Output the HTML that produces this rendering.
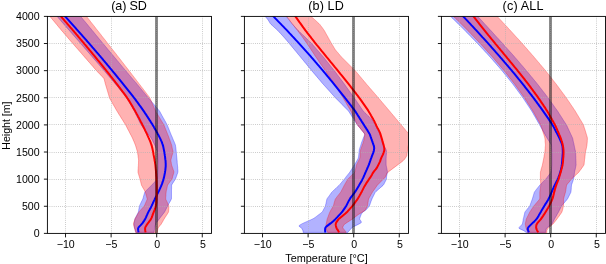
<!DOCTYPE html><html><head><meta charset="utf-8"><style>html,body{margin:0;padding:0;background:#fff;}svg{display:block;will-change:transform;}text{font-family:"Liberation Sans",sans-serif;fill:#000;}</style></head><body>
<svg width="606" height="264" viewBox="0 0 606 264">
<rect width="606" height="264" fill="#fff"/>
<clipPath id="c0"><rect x="47.40" y="16.40" width="164.10" height="217.00"/></clipPath>
<g clip-path="url(#c0)">
<polygon points="54.5,13.4 55.4,14.4 56.2,15.4 57.1,16.4 58.0,17.4 58.8,18.4 59.7,19.4 60.6,20.4 61.4,21.4 62.3,22.4 63.2,23.4 64.0,24.4 64.9,25.4 65.8,26.4 66.6,27.4 67.5,28.4 68.4,29.4 69.3,30.4 70.1,31.4 71.0,32.4 71.9,33.4 72.7,34.4 73.6,35.4 74.5,36.4 75.4,37.4 76.2,38.4 77.1,39.4 78.0,40.4 78.9,41.4 79.7,42.4 80.6,43.4 81.5,44.4 82.3,45.4 83.2,46.4 84.1,47.4 84.9,48.4 85.8,49.4 86.7,50.4 87.5,51.4 88.4,52.4 89.3,53.4 90.1,54.4 91.0,55.4 91.9,56.4 92.7,57.4 93.6,58.4 94.5,59.4 95.3,60.4 96.2,61.4 97.0,62.4 97.9,63.4 98.8,64.4 99.6,65.4 100.5,66.4 101.3,67.4 102.2,68.4 103.1,69.4 103.9,70.4 104.8,71.4 105.6,72.4 106.5,73.4 107.3,74.4 108.1,75.4 109.0,76.4 109.8,77.4 110.7,78.4 111.5,79.4 112.4,80.4 113.2,81.4 114.1,82.4 114.9,83.4 115.7,84.4 116.5,85.4 117.4,86.4 118.2,87.4 119.0,88.4 119.8,89.4 120.6,90.4 121.4,91.4 122.2,92.4 123.1,93.4 123.9,94.4 124.7,95.4 125.5,96.4 126.3,97.4 127.0,98.4 127.6,99.4 128.2,100.4 128.8,101.4 129.3,102.4 129.9,103.4 130.5,104.4 131.1,105.4 131.6,106.4 132.2,107.4 132.8,108.4 133.4,109.4 134.0,110.4 134.5,111.4 135.0,112.4 135.5,113.4 135.9,114.4 136.4,115.4 136.9,116.4 137.4,117.4 137.9,118.4 138.3,119.4 138.8,120.4 139.3,121.4 139.8,122.4 140.3,123.4 140.8,124.4 141.4,125.4 142.2,126.4 142.9,127.4 143.7,128.4 144.5,129.4 145.3,130.4 146.1,131.4 146.8,132.4 147.6,133.4 148.4,134.4 149.2,135.4 150.0,136.4 150.7,137.4 151.4,138.4 151.9,139.4 152.4,140.4 152.9,141.4 153.4,142.4 153.9,143.4 154.4,144.4 154.9,145.4 155.3,146.4 155.7,147.4 156.1,148.4 156.5,149.4 156.9,150.4 157.3,151.4 157.5,152.4 157.6,153.4 157.6,154.4 157.7,155.4 157.7,156.4 157.8,157.4 157.8,158.4 157.9,159.4 158.0,160.4 158.0,161.4 158.1,162.4 158.1,163.4 158.2,164.4 158.2,165.4 158.1,166.4 158.0,167.4 158.0,168.4 157.9,169.4 157.8,170.4 157.7,171.4 157.7,172.4 157.7,173.4 157.6,174.4 157.6,175.4 157.6,176.4 157.5,177.4 157.5,178.4 157.1,179.4 156.2,180.4 155.2,181.4 154.3,182.4 153.3,183.4 152.4,184.4 151.4,185.4 150.4,186.4 149.4,187.4 148.4,188.4 147.4,189.4 146.4,190.4 145.4,191.4 144.7,192.4 144.4,193.4 144.1,194.4 143.8,195.4 143.5,196.4 143.3,197.4 143.0,198.4 142.6,199.4 142.1,200.4 141.6,201.4 141.1,202.4 140.7,203.4 140.2,204.4 139.7,205.4 139.4,206.4 139.2,207.4 139.0,208.4 138.8,209.4 138.7,210.4 138.5,211.4 138.2,212.4 137.7,213.4 137.2,214.4 136.7,215.4 136.2,216.4 135.7,217.4 135.2,218.4 134.8,219.4 134.6,220.4 134.5,221.4 134.3,222.4 134.1,223.4 134.1,224.4 134.2,225.4 134.3,226.4 134.4,227.4 134.6,228.4 135.0,229.4 135.3,230.4 135.6,231.4 135.9,232.4 154.0,232.4 154.2,231.4 154.3,230.4 154.5,229.4 154.6,228.4 154.8,227.4 155.0,226.4 155.2,225.4 155.5,224.4 156.0,223.4 156.7,222.4 157.4,221.4 158.2,220.4 158.9,219.4 159.7,218.4 160.4,217.4 161.2,216.4 162.0,215.4 162.7,214.4 163.5,213.4 164.3,212.4 164.9,211.4 165.4,210.4 165.9,209.4 166.4,208.4 166.9,207.4 167.4,206.4 167.9,205.4 168.5,204.4 169.0,203.4 169.6,202.4 170.2,201.4 170.7,200.4 171.2,199.4 171.5,198.4 171.5,197.4 171.5,196.4 171.5,195.4 171.5,194.4 171.5,193.4 171.5,192.4 171.5,191.4 171.5,190.4 171.5,189.4 171.6,188.4 171.6,187.4 171.6,186.4 171.6,185.4 172.0,184.4 172.6,183.4 173.3,182.4 173.9,181.4 174.6,180.4 175.2,179.4 175.7,178.4 176.1,177.4 176.4,176.4 176.8,175.4 177.1,174.4 177.5,173.4 177.8,172.4 177.9,171.4 177.9,170.4 177.8,169.4 177.7,168.4 177.7,167.4 177.6,166.4 177.5,165.4 177.4,164.4 177.3,163.4 177.2,162.4 177.2,161.4 177.1,160.4 177.0,159.4 176.9,158.4 176.8,157.4 176.7,156.4 176.6,155.4 176.5,154.4 176.4,153.4 176.3,152.4 176.2,151.4 176.1,150.4 176.0,149.4 175.9,148.4 175.8,147.4 175.6,146.4 175.5,145.4 175.2,144.4 174.8,143.4 174.4,142.4 174.0,141.4 173.5,140.4 173.1,139.4 172.7,138.4 172.3,137.4 171.9,136.4 171.4,135.4 171.0,134.4 170.6,133.4 170.2,132.4 169.8,131.4 169.4,130.4 169.0,129.4 168.6,128.4 168.2,127.4 167.8,126.4 167.4,125.4 166.9,124.4 166.4,123.4 165.8,122.4 165.3,121.4 164.7,120.4 164.2,119.4 163.6,118.4 163.0,117.4 162.5,116.4 161.9,115.4 161.4,114.4 160.8,113.4 160.3,112.4 159.7,111.4 159.0,110.4 158.1,109.4 157.3,108.4 156.5,107.4 155.6,106.4 154.8,105.4 153.9,104.4 153.1,103.4 152.2,102.4 151.4,101.4 150.5,100.4 149.7,99.4 148.8,98.4 148.0,97.4 147.2,96.4 146.3,95.4 145.5,94.4 144.7,93.4 143.9,92.4 143.0,91.4 142.2,90.4 141.4,89.4 140.5,88.4 139.7,87.4 138.9,86.4 138.1,85.4 137.2,84.4 136.4,83.4 135.6,82.4 134.7,81.4 133.9,80.4 133.0,79.4 132.2,78.4 131.3,77.4 130.5,76.4 129.6,75.4 128.8,74.4 128.0,73.4 127.1,72.4 126.3,71.4 125.4,70.4 124.6,69.4 123.8,68.4 122.9,67.4 122.1,66.4 121.3,65.4 120.4,64.4 119.6,63.4 118.8,62.4 118.0,61.4 117.1,60.4 116.3,59.4 115.5,58.4 114.6,57.4 113.8,56.4 113.0,55.4 112.1,54.4 111.3,53.4 110.4,52.4 109.6,51.4 108.8,50.4 107.9,49.4 107.1,48.4 106.3,47.4 105.4,46.4 104.6,45.4 103.8,44.4 102.9,43.4 102.1,42.4 101.3,41.4 100.5,40.4 99.6,39.4 98.8,38.4 98.0,37.4 97.2,36.4 96.3,35.4 95.5,34.4 94.7,33.4 93.9,32.4 93.1,31.4 92.2,30.4 91.4,29.4 90.6,28.4 89.7,27.4 88.9,26.4 88.1,25.4 87.3,24.4 86.4,23.4 85.6,22.4 84.8,21.4 83.9,20.4 83.1,19.4 82.3,18.4 81.4,17.4 80.6,16.4 79.8,15.4 79.0,14.4 78.1,13.4" fill="rgba(0,0,255,0.3)" stroke="rgba(0,0,255,0.3)" stroke-width="1" stroke-linejoin="round"/>
<polygon points="47.4,13.4 48.3,14.4 49.1,15.4 49.9,16.4 50.7,17.4 51.6,18.4 52.4,19.4 53.2,20.4 54.1,21.4 54.9,22.4 55.7,23.4 56.6,24.4 57.4,25.4 58.2,26.4 59.0,27.4 59.9,28.4 60.7,29.4 61.5,30.4 62.4,31.4 63.3,32.4 64.1,33.4 65.0,34.4 65.8,35.4 66.7,36.4 67.6,37.4 68.4,38.4 69.3,39.4 70.1,40.4 71.0,41.4 71.9,42.4 72.7,43.4 73.6,44.4 74.5,45.4 75.3,46.4 76.2,47.4 77.1,48.4 78.0,49.4 78.8,50.4 79.7,51.4 80.6,52.4 81.5,53.4 82.3,54.4 83.2,55.4 84.1,56.4 84.9,57.4 85.8,58.4 86.7,59.4 87.5,60.4 88.4,61.4 89.3,62.4 90.2,63.4 91.0,64.4 91.9,65.4 92.8,66.4 93.6,67.4 94.5,68.4 95.4,69.4 96.2,70.4 97.2,71.4 98.1,72.4 99.1,73.4 100.1,74.4 101.0,75.4 102.0,76.4 102.9,77.4 103.8,78.4 104.2,79.4 104.5,80.4 104.7,81.4 105.0,82.4 105.2,83.4 105.5,84.4 105.8,85.4 106.1,86.4 106.4,87.4 106.7,88.4 107.0,89.4 107.3,90.4 107.6,91.4 107.9,92.4 108.2,93.4 108.5,94.4 108.8,95.4 109.0,96.4 109.3,97.4 109.7,98.4 110.3,99.4 110.9,100.4 111.4,101.4 112.0,102.4 112.6,103.4 113.1,104.4 113.7,105.4 114.3,106.4 114.9,107.4 115.4,108.4 116.0,109.4 116.6,110.4 117.2,111.4 117.8,112.4 118.4,113.4 119.0,114.4 119.7,115.4 120.3,116.4 120.9,117.4 121.5,118.4 122.2,119.4 122.8,120.4 123.4,121.4 124.0,122.4 124.7,123.4 125.3,124.4 125.9,125.4 126.4,126.4 126.9,127.4 127.4,128.4 127.9,129.4 128.5,130.4 129.0,131.4 129.5,132.4 130.0,133.4 130.5,134.4 131.1,135.4 131.6,136.4 132.1,137.4 132.6,138.4 133.0,139.4 133.4,140.4 133.9,141.4 134.3,142.4 134.7,143.4 135.1,144.4 135.5,145.4 135.8,146.4 136.1,147.4 136.4,148.4 136.7,149.4 137.0,150.4 137.3,151.4 137.5,152.4 137.7,153.4 137.8,154.4 138.0,155.4 138.1,156.4 138.2,157.4 138.4,158.4 138.5,159.4 138.6,160.4 138.5,161.4 138.5,162.4 138.5,163.4 138.4,164.4 138.4,165.4 138.3,166.4 138.2,167.4 138.2,168.4 138.1,169.4 138.0,170.4 138.0,171.4 138.0,172.4 138.3,173.4 138.6,174.4 138.9,175.4 139.2,176.4 139.5,177.4 139.8,178.4 140.1,179.4 140.3,180.4 140.6,181.4 140.8,182.4 141.0,183.4 141.3,184.4 141.6,185.4 142.2,186.4 142.7,187.4 143.3,188.4 143.9,189.4 144.4,190.4 145.0,191.4 145.4,192.4 145.7,193.4 146.0,194.4 146.3,195.4 146.6,196.4 146.8,197.4 147.1,198.4 147.1,199.4 146.7,200.4 146.3,201.4 145.8,202.4 145.4,203.4 145.0,204.4 144.5,205.4 143.9,206.4 143.0,207.4 142.1,208.4 141.2,209.4 140.3,210.4 139.4,211.4 138.7,212.4 138.1,213.4 137.5,214.4 137.0,215.4 136.4,216.4 135.8,217.4 135.2,218.4 134.8,219.4 134.5,220.4 134.1,221.4 133.8,222.4 133.5,223.4 133.5,224.4 133.7,225.4 134.0,226.4 134.3,227.4 134.6,228.4 134.9,229.4 135.1,230.4 135.4,231.4 135.6,232.4 157.3,232.4 157.4,231.4 157.6,230.4 157.8,229.4 158.0,228.4 158.5,227.4 159.3,226.4 160.1,225.4 161.0,224.4 161.6,223.4 162.2,222.4 162.8,221.4 163.3,220.4 163.9,219.4 164.5,218.4 165.1,217.4 165.8,216.4 166.4,215.4 167.1,214.4 167.7,213.4 168.3,212.4 168.6,211.4 168.7,210.4 168.8,209.4 168.8,208.4 168.9,207.4 168.9,206.4 168.7,205.4 168.2,204.4 167.7,203.4 167.3,202.4 166.8,201.4 166.3,200.4 165.8,199.4 165.7,198.4 165.7,197.4 165.8,196.4 165.9,195.4 165.9,194.4 166.0,193.4 166.1,192.4 166.2,191.4 166.4,190.4 166.7,189.4 166.9,188.4 167.1,187.4 167.3,186.4 167.5,185.4 168.1,184.4 168.8,183.4 169.5,182.4 170.2,181.4 171.0,180.4 171.7,179.4 172.2,178.4 172.5,177.4 172.7,176.4 173.0,175.4 173.3,174.4 173.6,173.4 173.8,172.4 173.8,171.4 173.5,170.4 173.1,169.4 172.8,168.4 172.4,167.4 172.1,166.4 171.7,165.4 171.5,164.4 171.3,163.4 171.2,162.4 171.0,161.4 170.9,160.4 171.0,159.4 171.3,158.4 171.5,157.4 171.8,156.4 172.1,155.4 172.4,154.4 172.7,153.4 173.0,152.4 173.0,151.4 172.8,150.4 172.5,149.4 172.3,148.4 172.1,147.4 171.9,146.4 171.7,145.4 171.4,144.4 171.0,143.4 170.7,142.4 170.3,141.4 170.0,140.4 169.6,139.4 169.2,138.4 168.9,137.4 168.5,136.4 168.1,135.4 167.7,134.4 167.3,133.4 166.9,132.4 166.5,131.4 166.1,130.4 165.7,129.4 165.3,128.4 164.9,127.4 164.5,126.4 164.1,125.4 163.6,124.4 163.0,123.4 162.4,122.4 161.8,121.4 161.2,120.4 160.6,119.4 160.0,118.4 159.4,117.4 158.8,116.4 158.2,115.4 157.6,114.4 157.0,113.4 156.3,112.4 155.8,111.4 155.3,110.4 154.8,109.4 154.4,108.4 154.0,107.4 153.6,106.4 153.1,105.4 152.7,104.4 152.3,103.4 151.9,102.4 151.4,101.4 151.0,100.4 150.6,99.4 150.1,98.4 149.5,97.4 148.8,96.4 148.0,95.4 147.2,94.4 146.5,93.4 145.7,92.4 145.0,91.4 144.2,90.4 143.4,89.4 142.7,88.4 141.9,87.4 141.1,86.4 140.4,85.4 139.6,84.4 138.8,83.4 138.1,82.4 137.3,81.4 136.5,80.4 135.8,79.4 135.0,78.4 134.2,77.4 133.5,76.4 132.7,75.4 131.9,74.4 131.2,73.4 130.4,72.4 129.6,71.4 128.8,70.4 128.1,69.4 127.3,68.4 126.5,67.4 125.7,66.4 124.9,65.4 124.2,64.4 123.4,63.4 122.6,62.4 121.8,61.4 121.1,60.4 120.3,59.4 119.5,58.4 118.7,57.4 117.9,56.4 117.1,55.4 116.4,54.4 115.6,53.4 114.8,52.4 114.0,51.4 113.2,50.4 112.4,49.4 111.6,48.4 110.9,47.4 110.1,46.4 109.3,45.4 108.5,44.4 107.7,43.4 106.9,42.4 106.2,41.4 105.4,40.4 104.6,39.4 103.8,38.4 103.0,37.4 102.2,36.4 101.4,35.4 100.7,34.4 99.9,33.4 99.1,32.4 98.3,31.4 97.5,30.4 96.7,29.4 95.9,28.4 95.2,27.4 94.4,26.4 93.6,25.4 92.8,24.4 92.0,23.4 91.2,22.4 90.4,21.4 89.7,20.4 88.9,19.4 88.1,18.4 87.3,17.4 86.5,16.4 85.7,15.4 85.0,14.4 84.2,13.4" fill="rgba(255,0,0,0.3)" stroke="rgba(255,0,0,0.3)" stroke-width="1" stroke-linejoin="round"/>
<path d="M65.5 16.4V233.4M111.5 16.4V233.4M156.5 16.4V233.4M202.5 16.4V233.4M47.4 206.5H211.5M47.4 179.5H211.5M47.4 152.5H211.5M47.4 124.5H211.5M47.4 97.5H211.5M47.4 70.5H211.5M47.4 43.5H211.5" stroke="#b0b0b0" stroke-width="0.8" stroke-dasharray="0.8,1.32" fill="none"/>
<polyline points="62.4,13.4 63.3,14.4 64.2,15.4 65.1,16.4 66.0,17.4 66.9,18.4 67.8,19.4 68.7,20.4 69.6,21.4 70.5,22.4 71.4,23.4 72.3,24.4 73.2,25.4 74.1,26.4 75.0,27.4 75.9,28.4 76.7,29.4 77.6,30.4 78.5,31.4 79.4,32.4 80.3,33.4 81.2,34.4 82.1,35.4 82.9,36.4 83.8,37.4 84.7,38.4 85.6,39.4 86.5,40.4 87.3,41.4 88.2,42.4 89.1,43.4 90.0,44.4 90.8,45.4 91.7,46.4 92.5,47.4 93.4,48.4 94.3,49.4 95.1,50.4 96.0,51.4 96.8,52.4 97.7,53.4 98.6,54.4 99.4,55.4 100.3,56.4 101.1,57.4 102.0,58.4 102.8,59.4 103.6,60.4 104.5,61.4 105.3,62.4 106.2,63.4 107.0,64.4 107.8,65.4 108.7,66.4 109.5,67.4 110.3,68.4 111.2,69.4 112.0,70.4 112.8,71.4 113.6,72.4 114.5,73.4 115.3,74.4 116.1,75.4 116.9,76.4 117.7,77.4 118.5,78.4 119.4,79.4 120.2,80.4 121.0,81.4 121.8,82.4 122.6,83.4 123.4,84.4 124.2,85.4 125.0,86.4 125.8,87.4 126.6,88.4 127.4,89.4 128.2,90.4 129.0,91.4 129.8,92.4 130.6,93.4 131.4,94.4 132.2,95.4 133.0,96.4 133.7,97.4 134.5,98.4 135.3,99.4 136.0,100.4 136.7,101.4 137.5,102.4 138.2,103.4 138.9,104.4 139.6,105.4 140.4,106.4 141.1,107.4 141.8,108.4 142.5,109.4 143.2,110.4 143.9,111.4 144.6,112.4 145.2,113.4 145.9,114.4 146.6,115.4 147.2,116.4 147.9,117.4 148.5,118.4 149.2,119.4 149.8,120.4 150.5,121.4 151.1,122.4 151.7,123.4 152.4,124.4 153.0,125.4 153.6,126.4 154.1,127.4 154.7,128.4 155.3,129.4 155.9,130.4 156.4,131.4 157.0,132.4 157.5,133.4 158.1,134.4 158.6,135.4 159.1,136.4 159.6,137.4 160.1,138.4 160.6,139.4 161.0,140.4 161.5,141.4 161.9,142.4 162.2,143.4 162.6,144.4 162.9,145.4 163.2,146.4 163.4,147.4 163.6,148.4 163.8,149.4 164.0,150.4 164.2,151.4 164.4,152.4 164.5,153.4 164.7,154.4 164.8,155.4 165.0,156.4 165.1,157.4 165.2,158.4 165.3,159.4 165.5,160.4 165.6,161.4 165.6,162.4 165.7,163.4 165.7,164.4 165.7,165.4 165.7,166.4 165.6,167.4 165.5,168.4 165.4,169.4 165.3,170.4 165.1,171.4 165.0,172.4 164.8,173.4 164.6,174.4 164.4,175.4 164.2,176.4 164.0,177.4 163.7,178.4 163.5,179.4 163.2,180.4 162.8,181.4 162.5,182.4 162.2,183.4 161.8,184.4 161.4,185.4 161.0,186.4 160.5,187.4 160.1,188.4 159.6,189.4 159.2,190.4 158.7,191.4 158.2,192.4 157.7,193.4 157.2,194.4 156.7,195.4 156.1,196.4 155.6,197.4 155.1,198.4 154.7,199.4 154.2,200.4 153.7,201.4 153.2,202.4 152.8,203.4 152.3,204.4 151.9,205.4 151.4,206.4 150.9,207.4 150.3,208.4 149.8,209.4 149.2,210.4 148.7,211.4 148.2,212.4 147.7,213.4 147.3,214.4 146.8,215.4 146.4,216.4 146.0,217.4 145.5,218.4 145.0,219.4 144.3,220.4 143.7,221.4 143.0,222.4 142.3,223.4 141.4,224.4 140.5,225.4 139.5,226.4 138.6,227.4 138.1,228.4 138.1,229.4 138.2,230.4 138.4,231.4 138.5,232.4" fill="none" stroke="#0000ff" stroke-width="2" stroke-linejoin="round"/>
<polyline points="58.3,13.4 59.2,14.4 60.1,15.4 60.9,16.4 61.8,17.4 62.6,18.4 63.5,19.4 64.4,20.4 65.2,21.4 66.1,22.4 67.0,23.4 67.8,24.4 68.7,25.4 69.6,26.4 70.4,27.4 71.3,28.4 72.2,29.4 73.0,30.4 73.9,31.4 74.7,32.4 75.6,33.4 76.4,34.4 77.3,35.4 78.1,36.4 78.9,37.4 79.8,38.4 80.6,39.4 81.5,40.4 82.3,41.4 83.2,42.4 84.0,43.4 84.8,44.4 85.7,45.4 86.5,46.4 87.3,47.4 88.2,48.4 89.0,49.4 89.8,50.4 90.7,51.4 91.5,52.4 92.3,53.4 93.1,54.4 94.0,55.4 94.8,56.4 95.6,57.4 96.4,58.4 97.2,59.4 98.0,60.4 98.9,61.4 99.7,62.4 100.5,63.4 101.3,64.4 102.1,65.4 102.9,66.4 103.7,67.4 104.5,68.4 105.3,69.4 106.1,70.4 106.9,71.4 107.7,72.4 108.5,73.4 109.3,74.4 110.1,75.4 110.8,76.4 111.6,77.4 112.4,78.4 113.2,79.4 114.0,80.4 114.8,81.4 115.5,82.4 116.3,83.4 117.1,84.4 117.9,85.4 118.6,86.4 119.4,87.4 120.2,88.4 120.9,89.4 121.7,90.4 122.4,91.4 123.2,92.4 124.0,93.4 124.7,94.4 125.4,95.4 126.1,96.4 126.8,97.4 127.5,98.4 128.2,99.4 128.8,100.4 129.5,101.4 130.1,102.4 130.7,103.4 131.3,104.4 131.9,105.4 132.5,106.4 133.0,107.4 133.6,108.4 134.2,109.4 134.8,110.4 135.3,111.4 135.9,112.4 136.4,113.4 137.0,114.4 137.5,115.4 138.0,116.4 138.6,117.4 139.1,118.4 139.6,119.4 140.1,120.4 140.6,121.4 141.2,122.4 141.7,123.4 142.2,124.4 142.7,125.4 143.2,126.4 143.7,127.4 144.2,128.4 144.7,129.4 145.1,130.4 145.6,131.4 146.1,132.4 146.6,133.4 147.1,134.4 147.5,135.4 148.0,136.4 148.4,137.4 148.9,138.4 149.3,139.4 149.8,140.4 150.2,141.4 150.6,142.4 150.9,143.4 151.3,144.4 151.6,145.4 151.9,146.4 152.1,147.4 152.4,148.4 152.6,149.4 152.8,150.4 153.0,151.4 153.2,152.4 153.4,153.4 153.5,154.4 153.7,155.4 153.9,156.4 154.1,157.4 154.3,158.4 154.5,159.4 154.6,160.4 154.8,161.4 155.0,162.4 155.1,163.4 155.3,164.4 155.4,165.4 155.5,166.4 155.6,167.4 155.7,168.4 155.8,169.4 155.9,170.4 156.0,171.4 156.0,172.4 156.1,173.4 156.2,174.4 156.2,175.4 156.3,176.4 156.4,177.4 156.4,178.4 156.5,179.4 156.5,180.4 156.6,181.4 156.6,182.4 156.6,183.4 156.6,184.4 156.7,185.4 156.7,186.4 156.7,187.4 156.7,188.4 156.7,189.4 156.7,190.4 156.7,191.4 156.7,192.4 156.7,193.4 156.7,194.4 156.7,195.4 156.7,196.4 156.6,197.4 156.6,198.4 156.6,199.4 156.5,200.4 156.4,201.4 156.4,202.4 156.3,203.4 156.1,204.4 156.0,205.4 155.8,206.4 155.5,207.4 155.1,208.4 154.8,209.4 154.4,210.4 154.0,211.4 153.6,212.4 153.2,213.4 152.8,214.4 152.5,215.4 152.1,216.4 151.8,217.4 151.3,218.4 150.8,219.4 150.1,220.4 149.3,221.4 148.6,222.4 147.8,223.4 147.1,224.4 146.4,225.4 145.8,226.4 145.3,227.4 145.1,228.4 145.1,229.4 145.2,230.4 145.4,231.4 145.5,232.4" fill="none" stroke="#ff0000" stroke-width="2" stroke-linejoin="round"/>
<line x1="156.50" y1="16.40" x2="156.50" y2="233.40" stroke="rgba(0,0,0,0.45)" stroke-width="3"/>
</g>
<rect x="47.40" y="16.40" width="164.10" height="217.00" fill="none" stroke="#000" stroke-width="0.9"/>
<path d="M65.53 233.40v4.0M111.11 233.40v4.0M156.70 233.40v4.0M202.28 233.40v4.0M47.40 233.40h-3.5M47.40 206.28h-3.5M47.40 179.15h-3.5M47.40 152.03h-3.5M47.40 124.90h-3.5M47.40 97.78h-3.5M47.40 70.65h-3.5M47.40 43.53h-3.5M47.40 16.40h-3.5" stroke="#000" stroke-width="0.9" fill="none"/>
<text x="65.73" y="247.8" text-anchor="middle" font-size="10.60">−10</text>
<text x="111.31" y="247.8" text-anchor="middle" font-size="10.60">−5</text>
<text x="157.30" y="247.8" text-anchor="middle" font-size="10.60">0</text>
<text x="202.88" y="247.8" text-anchor="middle" font-size="10.60">5</text>
<text x="39.6" y="237.20" text-anchor="end" font-size="10.60">0</text>
<text x="39.6" y="210.08" text-anchor="end" font-size="10.60">500</text>
<text x="39.6" y="182.95" text-anchor="end" font-size="10.60">1000</text>
<text x="39.6" y="155.83" text-anchor="end" font-size="10.60">1500</text>
<text x="39.6" y="128.70" text-anchor="end" font-size="10.60">2000</text>
<text x="39.6" y="101.58" text-anchor="end" font-size="10.60">2500</text>
<text x="39.6" y="74.45" text-anchor="end" font-size="10.60">3000</text>
<text x="39.6" y="47.33" text-anchor="end" font-size="10.60">3500</text>
<text x="39.6" y="20.20" text-anchor="end" font-size="10.60">4000</text>
<text x="129.05" y="9.6" text-anchor="middle" font-size="12.60" textLength="35.6" lengthAdjust="spacing">(a) SD</text>
<clipPath id="c1"><rect x="244.40" y="16.40" width="164.10" height="217.00"/></clipPath>
<g clip-path="url(#c1)">
<polygon points="262.1,13.4 263.1,14.4 264.0,15.4 265.0,16.4 266.0,17.4 266.9,18.4 267.7,19.4 268.4,20.4 269.0,21.4 269.6,22.4 270.2,23.4 271.1,24.4 272.2,25.4 273.3,26.4 274.4,27.4 275.5,28.4 276.6,29.4 277.7,30.4 278.6,31.4 279.5,32.4 280.5,33.4 281.4,34.4 282.3,35.4 283.2,36.4 284.1,37.4 285.0,38.4 285.8,39.4 286.7,40.4 287.5,41.4 288.4,42.4 289.2,43.4 290.0,44.4 290.9,45.4 291.7,46.4 292.5,47.4 293.4,48.4 294.2,49.4 295.0,50.4 295.9,51.4 296.7,52.4 297.5,53.4 298.3,54.4 299.2,55.4 300.0,56.4 300.8,57.4 301.6,58.4 302.5,59.4 303.3,60.4 304.1,61.4 304.9,62.4 305.8,63.4 306.6,64.4 307.4,65.4 308.2,66.4 309.0,67.4 309.9,68.4 310.7,69.4 311.5,70.4 312.3,71.4 313.2,72.4 314.0,73.4 314.9,74.4 315.7,75.4 316.6,76.4 317.4,77.4 318.3,78.4 319.1,79.4 320.0,80.4 320.8,81.4 321.6,82.4 322.5,83.4 323.4,84.4 324.3,85.4 325.2,86.4 326.1,87.4 327.0,88.4 327.9,89.4 328.8,90.4 329.7,91.4 330.6,92.4 331.5,93.4 332.4,94.4 333.3,95.4 334.2,96.4 335.1,97.4 336.0,98.4 337.0,99.4 338.0,100.4 339.0,101.4 340.0,102.4 341.0,103.4 342.0,104.4 342.9,105.4 343.9,106.4 344.9,107.4 345.9,108.4 346.9,109.4 347.9,110.4 348.7,111.4 349.4,112.4 350.0,113.4 350.7,114.4 351.3,115.4 351.9,116.4 352.6,117.4 353.2,118.4 353.8,119.4 354.5,120.4 355.1,121.4 355.7,122.4 356.4,123.4 357.0,124.4 357.8,125.4 358.6,126.4 359.5,127.4 360.3,128.4 361.1,129.4 361.9,130.4 362.7,131.4 363.5,132.4 364.3,133.4 364.7,134.4 364.4,135.4 364.0,136.4 363.6,137.4 363.2,138.4 362.8,139.4 362.4,140.4 362.0,141.4 361.6,142.4 361.3,143.4 361.0,144.4 360.7,145.4 360.4,146.4 360.0,147.4 359.7,148.4 359.4,149.4 359.2,150.4 359.1,151.4 359.0,152.4 358.9,153.4 358.8,154.4 358.7,155.4 358.6,156.4 358.4,157.4 358.1,158.4 357.6,159.4 357.0,160.4 356.5,161.4 355.9,162.4 355.3,163.4 354.7,164.4 354.1,165.4 353.5,166.4 352.9,167.4 352.2,168.4 351.6,169.4 350.9,170.4 350.3,171.4 349.6,172.4 348.8,173.4 348.0,174.4 347.2,175.4 346.4,176.4 345.7,177.4 344.9,178.4 344.1,179.4 343.2,180.4 342.4,181.4 341.6,182.4 340.7,183.4 339.9,184.4 339.0,185.4 337.9,186.4 336.8,187.4 335.8,188.4 334.7,189.4 333.6,190.4 332.6,191.4 331.6,192.4 330.9,193.4 330.2,194.4 329.5,195.4 328.8,196.4 328.0,197.4 327.3,198.4 326.8,199.4 326.6,200.4 326.4,201.4 326.2,202.4 326.0,203.4 325.7,204.4 325.5,205.4 325.2,206.4 324.7,207.4 324.2,208.4 323.6,209.4 323.1,210.4 322.6,211.4 321.7,212.4 320.5,213.4 319.1,214.4 317.8,215.4 316.5,216.4 315.2,217.4 313.7,218.4 311.7,219.4 309.5,220.4 307.2,221.4 305.0,222.4 302.8,223.4 300.9,224.4 299.3,225.4 299.2,226.4 300.8,227.4 301.7,228.4 302.3,229.4 302.8,230.4 303.1,231.4 303.1,232.4 347.9,232.4 348.6,231.4 349.5,230.4 350.4,229.4 351.2,228.4 352.4,227.4 354.2,226.4 356.2,225.4 358.2,224.4 360.1,223.4 361.4,222.4 361.1,221.4 360.5,220.4 359.8,219.4 359.7,218.4 360.1,217.4 360.4,216.4 360.8,215.4 361.2,214.4 361.8,213.4 362.6,212.4 363.8,211.4 365.4,210.4 366.5,209.4 367.3,208.4 368.2,207.4 369.0,206.4 369.6,205.4 370.0,204.4 370.3,203.4 370.7,202.4 371.0,201.4 371.4,200.4 371.8,199.4 372.2,198.4 372.7,197.4 373.2,196.4 373.7,195.4 374.2,194.4 374.7,193.4 375.2,192.4 376.1,191.4 377.3,190.4 378.4,189.4 379.6,188.4 380.7,187.4 381.9,186.4 383.0,185.4 383.8,184.4 384.3,183.4 384.8,182.4 385.3,181.4 385.8,180.4 386.3,179.4 386.5,178.4 386.5,177.4 386.6,176.4 386.8,175.4 387.0,174.4 387.2,173.4 387.4,172.4 387.4,171.4 387.2,170.4 387.0,169.4 386.8,168.4 386.6,167.4 386.4,166.4 386.2,165.4 386.1,164.4 386.1,163.4 386.1,162.4 386.1,161.4 386.1,160.4 386.1,159.4 386.1,158.4 386.2,157.4 386.2,156.4 386.3,155.4 386.4,154.4 386.5,153.4 386.6,152.4 386.5,151.4 386.3,150.4 386.0,149.4 385.5,148.4 384.9,147.4 384.2,146.4 383.5,145.4 383.1,144.4 382.8,143.4 382.6,142.4 382.4,141.4 382.1,140.4 381.9,139.4 381.7,138.4 381.3,137.4 380.9,136.4 380.5,135.4 380.0,134.4 379.6,133.4 379.1,132.4 378.6,131.4 378.1,130.4 377.6,129.4 377.1,128.4 376.5,127.4 376.0,126.4 375.5,125.4 375.0,124.4 374.4,123.4 373.8,122.4 373.3,121.4 372.7,120.4 371.9,119.4 370.8,118.4 369.8,117.4 368.8,116.4 367.7,115.4 366.7,114.4 365.7,113.4 364.6,112.4 363.6,111.4 362.8,110.4 362.1,109.4 361.4,108.4 360.7,107.4 360.1,106.4 359.4,105.4 358.7,104.4 358.0,103.4 357.3,102.4 356.7,101.4 356.0,100.4 355.3,99.4 354.6,98.4 353.9,97.4 353.2,96.4 352.4,95.4 351.7,94.4 351.0,93.4 350.3,92.4 349.6,91.4 348.9,90.4 348.2,89.4 347.4,88.4 346.7,87.4 346.0,86.4 345.3,85.4 344.6,84.4 343.9,83.4 343.1,82.4 342.4,81.4 341.6,80.4 340.9,79.4 340.1,78.4 339.4,77.4 338.6,76.4 337.9,75.4 337.1,74.4 336.4,73.4 335.6,72.4 334.9,71.4 334.1,70.4 333.3,69.4 332.5,68.4 331.7,67.4 330.9,66.4 330.1,65.4 329.3,64.4 328.5,63.4 327.7,62.4 326.9,61.4 326.1,60.4 325.3,59.4 324.5,58.4 323.7,57.4 322.9,56.4 322.0,55.4 321.1,54.4 320.3,53.4 319.4,52.4 318.5,51.4 317.7,50.4 316.8,49.4 315.9,48.4 315.1,47.4 314.2,46.4 313.3,45.4 312.5,44.4 311.6,43.4 310.6,42.4 309.5,41.4 308.5,40.4 307.5,39.4 306.4,38.4 305.4,37.4 304.4,36.4 303.3,35.4 302.3,34.4 301.2,33.4 300.1,32.4 299.1,31.4 298.0,30.4 297.1,29.4 296.2,28.4 295.3,27.4 294.4,26.4 293.5,25.4 292.6,24.4 291.7,23.4 291.0,22.4 290.2,21.4 289.5,20.4 288.7,19.4 287.9,18.4 287.1,17.4 286.3,16.4 285.5,15.4 284.7,14.4 283.9,13.4" fill="rgba(0,0,255,0.3)" stroke="rgba(0,0,255,0.3)" stroke-width="1" stroke-linejoin="round"/>
<polygon points="284.1,13.4 284.9,14.4 285.7,15.4 286.5,16.4 287.3,17.4 288.1,18.4 288.9,19.4 289.7,20.4 290.4,21.4 291.2,22.4 291.9,23.4 292.7,24.4 293.5,25.4 294.3,26.4 295.1,27.4 295.9,28.4 296.7,29.4 297.5,30.4 298.2,31.4 299.0,32.4 299.7,33.4 300.5,34.4 301.2,35.4 302.0,36.4 302.7,37.4 303.4,38.4 304.1,39.4 304.8,40.4 305.5,41.4 306.2,42.4 306.9,43.4 307.6,44.4 308.3,45.4 308.9,46.4 309.6,47.4 310.2,48.4 310.9,49.4 311.5,50.4 312.2,51.4 312.9,52.4 313.5,53.4 314.2,54.4 314.8,55.4 315.5,56.4 316.2,57.4 316.9,58.4 317.6,59.4 318.3,60.4 318.9,61.4 319.6,62.4 320.3,63.4 321.0,64.4 321.7,65.4 322.4,66.4 323.1,67.4 323.8,68.4 324.5,69.4 325.2,70.4 325.9,71.4 326.5,72.4 327.2,73.4 327.9,74.4 328.5,75.4 329.2,76.4 329.9,77.4 330.6,78.4 331.2,79.4 331.9,80.4 332.6,81.4 333.2,82.4 333.9,83.4 334.6,84.4 335.2,85.4 335.8,86.4 336.5,87.4 337.1,88.4 337.7,89.4 338.4,90.4 339.0,91.4 339.6,92.4 340.3,93.4 340.9,94.4 341.5,95.4 342.2,96.4 342.8,97.4 343.4,98.4 344.0,99.4 344.6,100.4 345.2,101.4 345.8,102.4 346.4,103.4 346.9,104.4 347.5,105.4 348.1,106.4 348.7,107.4 349.3,108.4 349.9,109.4 350.4,110.4 351.0,111.4 351.5,112.4 351.9,113.4 352.4,114.4 352.9,115.4 353.3,116.4 353.8,117.4 354.3,118.4 354.8,119.4 355.2,120.4 355.7,121.4 356.2,122.4 356.6,123.4 357.1,124.4 357.8,125.4 358.6,126.4 359.5,127.4 360.3,128.4 361.1,129.4 361.9,130.4 362.7,131.4 363.5,132.4 364.3,133.4 364.7,134.4 364.7,135.4 364.5,136.4 364.3,137.4 364.1,138.4 363.9,139.4 363.8,140.4 363.5,141.4 363.2,142.4 362.9,143.4 362.5,144.4 362.1,145.4 361.8,146.4 361.4,147.4 361.1,148.4 360.7,149.4 360.5,150.4 360.4,151.4 360.3,152.4 360.2,153.4 360.2,154.4 360.1,155.4 360.0,156.4 359.9,157.4 359.7,158.4 359.2,159.4 358.7,160.4 358.2,161.4 357.7,162.4 357.2,163.4 356.7,164.4 356.3,165.4 356.1,166.4 355.9,167.4 355.7,168.4 355.5,169.4 355.2,170.4 355.0,171.4 354.5,172.4 353.5,173.4 352.5,174.4 351.5,175.4 350.5,176.4 349.5,177.4 348.5,178.4 347.7,179.4 347.1,180.4 346.5,181.4 345.9,182.4 345.3,183.4 344.8,184.4 344.2,185.4 343.7,186.4 343.2,187.4 342.7,188.4 342.1,189.4 341.6,190.4 341.1,191.4 340.5,192.4 339.7,193.4 338.9,194.4 338.1,195.4 337.3,196.4 336.6,197.4 335.8,198.4 335.2,199.4 334.9,200.4 334.6,201.4 334.3,202.4 334.0,203.4 333.8,204.4 333.5,205.4 333.0,206.4 332.5,207.4 331.9,208.4 331.3,209.4 330.7,210.4 330.2,211.4 329.7,212.4 329.3,213.4 328.9,214.4 328.5,215.4 328.2,216.4 327.8,217.4 327.4,218.4 327.1,219.4 326.9,220.4 326.7,221.4 326.5,222.4 326.3,223.4 326.1,224.4 325.9,225.4 325.7,226.4 325.6,227.4 325.9,228.4 326.3,229.4 326.8,230.4 327.2,231.4 327.6,232.4 346.2,232.4 345.5,231.4 344.8,230.4 344.0,229.4 343.2,228.4 342.7,227.4 343.1,226.4 343.6,225.4 344.3,224.4 345.7,223.4 347.2,222.4 348.8,221.4 350.3,220.4 351.9,219.4 353.3,218.4 354.6,217.4 355.9,216.4 357.2,215.4 358.5,214.4 360.2,213.4 361.9,212.4 363.5,211.4 364.8,210.4 365.6,209.4 366.2,208.4 366.7,207.4 367.3,206.4 367.6,205.4 367.7,204.4 367.9,203.4 368.0,202.4 368.2,201.4 368.3,200.4 368.5,199.4 368.9,198.4 369.4,197.4 370.0,196.4 370.6,195.4 371.1,194.4 371.7,193.4 372.3,192.4 372.9,191.4 373.6,190.4 374.4,189.4 375.1,188.4 375.8,187.4 376.5,186.4 377.2,185.4 378.1,184.4 379.1,183.4 380.1,182.4 381.1,181.4 382.1,180.4 383.1,179.4 384.1,178.4 385.1,177.4 385.7,176.4 386.1,175.4 386.5,174.4 386.9,173.4 387.8,172.4 389.0,171.4 390.4,170.4 391.7,169.4 393.0,168.4 394.4,167.4 395.7,166.4 397.0,165.4 398.3,164.4 399.7,163.4 401.0,162.4 402.3,161.4 403.4,160.4 404.4,159.4 405.1,158.4 405.8,157.4 406.4,156.4 406.9,155.4 407.0,154.4 407.1,153.4 407.2,152.4 407.4,151.4 407.5,150.4 407.6,149.4 407.8,148.4 408.0,147.4 408.2,146.4 408.4,145.4 408.7,144.4 409.0,143.4 409.4,142.4 409.6,141.4 409.9,140.4 410.1,139.4 410.4,138.4 410.3,137.4 410.1,136.4 409.8,135.4 409.4,134.4 408.5,133.4 407.5,132.4 406.7,131.4 405.8,130.4 405.0,129.4 404.2,128.4 403.3,127.4 402.5,126.4 401.6,125.4 400.8,124.4 399.9,123.4 399.1,122.4 398.2,121.4 397.4,120.4 396.6,119.4 395.7,118.4 394.9,117.4 394.1,116.4 393.2,115.4 392.4,114.4 391.5,113.4 390.7,112.4 389.9,111.4 389.0,110.4 388.2,109.4 387.3,108.4 386.5,107.4 385.6,106.4 384.8,105.4 383.9,104.4 383.1,103.4 382.2,102.4 381.4,101.4 380.5,100.4 379.7,99.4 378.8,98.4 378.0,97.4 377.1,96.4 376.3,95.4 375.4,94.4 374.5,93.4 373.7,92.4 372.8,91.4 371.9,90.4 371.1,89.4 370.2,88.4 369.3,87.4 368.5,86.4 367.6,85.4 366.7,84.4 365.9,83.4 365.1,82.4 364.2,81.4 363.4,80.4 362.5,79.4 361.7,78.4 360.9,77.4 360.0,76.4 359.2,75.4 358.4,74.4 357.5,73.4 356.7,72.4 355.8,71.4 354.9,70.4 353.9,69.4 352.9,68.4 351.9,67.4 350.9,66.4 349.9,65.4 348.9,64.4 347.9,63.4 346.9,62.4 345.9,61.4 344.9,60.4 343.9,59.4 342.9,58.4 341.9,57.4 341.0,56.4 340.1,55.4 339.3,54.4 338.4,53.4 337.6,52.4 336.7,51.4 335.9,50.4 335.1,49.4 334.5,48.4 333.9,47.4 333.3,46.4 332.7,45.4 332.1,44.4 331.5,43.4 330.9,42.4 330.3,41.4 329.8,40.4 329.2,39.4 328.7,38.4 328.1,37.4 327.6,36.4 327.0,35.4 326.4,34.4 325.9,33.4 325.3,32.4 324.8,31.4 324.2,30.4 323.5,29.4 322.8,28.4 322.1,27.4 321.3,26.4 320.5,25.4 319.8,24.4 318.8,23.4 317.7,22.4 316.6,21.4 315.5,20.4 314.4,19.4 313.3,18.4 312.1,17.4 310.9,16.4 309.7,15.4 308.5,14.4 307.3,13.4" fill="rgba(255,0,0,0.3)" stroke="rgba(255,0,0,0.3)" stroke-width="1" stroke-linejoin="round"/>
<path d="M262.5 16.4V233.4M308.5 16.4V233.4M353.5 16.4V233.4M399.5 16.4V233.4M244.4 206.5H408.5M244.4 179.5H408.5M244.4 152.5H408.5M244.4 124.5H408.5M244.4 97.5H408.5M244.4 70.5H408.5M244.4 43.5H408.5" stroke="#b0b0b0" stroke-width="0.8" stroke-dasharray="0.8,1.32" fill="none"/>
<polyline points="270.5,13.4 271.5,14.4 272.4,15.4 273.4,16.4 274.4,17.4 275.3,18.4 276.3,19.4 277.3,20.4 278.2,21.4 279.2,22.4 280.2,23.4 281.2,24.4 282.1,25.4 283.1,26.4 284.1,27.4 285.0,28.4 286.0,29.4 287.0,30.4 287.9,31.4 288.8,32.4 289.7,33.4 290.7,34.4 291.6,35.4 292.5,36.4 293.5,37.4 294.4,38.4 295.3,39.4 296.2,40.4 297.2,41.4 298.1,42.4 299.0,43.4 299.9,44.4 300.8,45.4 301.7,46.4 302.6,47.4 303.5,48.4 304.4,49.4 305.3,50.4 306.2,51.4 307.1,52.4 308.0,53.4 308.9,54.4 309.8,55.4 310.7,56.4 311.5,57.4 312.4,58.4 313.3,59.4 314.1,60.4 315.0,61.4 315.8,62.4 316.7,63.4 317.5,64.4 318.4,65.4 319.3,66.4 320.1,67.4 321.0,68.4 321.8,69.4 322.7,70.4 323.5,71.4 324.3,72.4 325.2,73.4 326.0,74.4 326.8,75.4 327.6,76.4 328.5,77.4 329.3,78.4 330.1,79.4 330.9,80.4 331.8,81.4 332.6,82.4 333.4,83.4 334.2,84.4 335.0,85.4 335.8,86.4 336.6,87.4 337.4,88.4 338.2,89.4 339.0,90.4 339.8,91.4 340.6,92.4 341.4,93.4 342.2,94.4 343.0,95.4 343.8,96.4 344.6,97.4 345.4,98.4 346.2,99.4 346.9,100.4 347.7,101.4 348.5,102.4 349.3,103.4 350.0,104.4 350.8,105.4 351.6,106.4 352.3,107.4 353.1,108.4 353.9,109.4 354.6,110.4 355.3,111.4 356.0,112.4 356.6,113.4 357.3,114.4 357.9,115.4 358.5,116.4 359.2,117.4 359.8,118.4 360.4,119.4 361.1,120.4 361.7,121.4 362.3,122.4 363.0,123.4 363.6,124.4 364.3,125.4 364.9,126.4 365.5,127.4 366.2,128.4 366.8,129.4 367.5,130.4 368.1,131.4 368.7,132.4 369.3,133.4 369.8,134.4 370.2,135.4 370.5,136.4 370.9,137.4 371.2,138.4 371.6,139.4 371.9,140.4 372.3,141.4 372.6,142.4 373.0,143.4 373.3,144.4 373.7,145.4 374.0,146.4 374.1,147.4 374.2,148.4 374.0,149.4 373.9,150.4 373.7,151.4 373.4,152.4 373.0,153.4 372.6,154.4 372.2,155.4 371.8,156.4 371.5,157.4 371.1,158.4 370.7,159.4 370.4,160.4 370.0,161.4 369.7,162.4 369.3,163.4 369.0,164.4 368.6,165.4 368.2,166.4 367.7,167.4 367.3,168.4 366.9,169.4 366.4,170.4 366.0,171.4 365.5,172.4 365.1,173.4 364.7,174.4 364.2,175.4 363.8,176.4 363.4,177.4 362.9,178.4 362.4,179.4 361.9,180.4 361.3,181.4 360.7,182.4 360.1,183.4 359.5,184.4 359.0,185.4 358.4,186.4 357.8,187.4 357.2,188.4 356.6,189.4 356.0,190.4 355.4,191.4 354.7,192.4 354.0,193.4 353.2,194.4 352.5,195.4 351.7,196.4 350.9,197.4 350.2,198.4 349.6,199.4 349.0,200.4 348.5,201.4 348.0,202.4 347.5,203.4 347.0,204.4 346.5,205.4 345.9,206.4 345.2,207.4 344.6,208.4 343.9,209.4 343.2,210.4 342.5,211.4 341.7,212.4 340.8,213.4 339.9,214.4 338.9,215.4 338.0,216.4 337.1,217.4 336.1,218.4 335.1,219.4 334.0,220.4 332.9,221.4 331.7,222.4 330.5,223.4 329.2,224.4 327.9,225.4 326.6,226.4 325.6,227.4 325.2,228.4 325.1,229.4 325.1,230.4 325.2,231.4 325.2,232.4" fill="none" stroke="#0000ff" stroke-width="2" stroke-linejoin="round"/>
<polyline points="293.4,13.4 294.1,14.4 294.8,15.4 295.4,16.4 296.1,17.4 296.8,18.4 297.5,19.4 298.2,20.4 298.9,21.4 299.6,22.4 300.4,23.4 301.1,24.4 301.8,25.4 302.5,26.4 303.2,27.4 304.0,28.4 304.7,29.4 305.4,30.4 306.2,31.4 307.0,32.4 307.7,33.4 308.5,34.4 309.3,35.4 310.1,36.4 310.9,37.4 311.6,38.4 312.4,39.4 313.2,40.4 314.0,41.4 314.7,42.4 315.5,43.4 316.3,44.4 317.1,45.4 318.0,46.4 318.8,47.4 319.6,48.4 320.4,49.4 321.2,50.4 322.0,51.4 322.9,52.4 323.7,53.4 324.5,54.4 325.3,55.4 326.1,56.4 326.9,57.4 327.8,58.4 328.6,59.4 329.4,60.4 330.2,61.4 331.0,62.4 331.9,63.4 332.7,64.4 333.5,65.4 334.3,66.4 335.1,67.4 336.0,68.4 336.8,69.4 337.6,70.4 338.4,71.4 339.2,72.4 340.0,73.4 340.8,74.4 341.7,75.4 342.5,76.4 343.3,77.4 344.1,78.4 344.9,79.4 345.7,80.4 346.5,81.4 347.3,82.4 348.1,83.4 348.9,84.4 349.7,85.4 350.5,86.4 351.2,87.4 352.0,88.4 352.8,89.4 353.5,90.4 354.3,91.4 355.1,92.4 355.9,93.4 356.6,94.4 357.4,95.4 358.2,96.4 358.9,97.4 359.7,98.4 360.4,99.4 361.1,100.4 361.8,101.4 362.5,102.4 363.2,103.4 363.9,104.4 364.6,105.4 365.3,106.4 366.0,107.4 366.7,108.4 367.4,109.4 368.1,110.4 368.7,111.4 369.3,112.4 369.9,113.4 370.5,114.4 371.0,115.4 371.6,116.4 372.2,117.4 372.8,118.4 373.3,119.4 373.9,120.4 374.4,121.4 374.8,122.4 375.3,123.4 375.8,124.4 376.2,125.4 376.7,126.4 377.2,127.4 377.8,128.4 378.3,129.4 378.8,130.4 379.3,131.4 379.8,132.4 380.2,133.4 380.5,134.4 380.8,135.4 381.1,136.4 381.4,137.4 381.7,138.4 382.0,139.4 382.3,140.4 382.5,141.4 382.8,142.4 383.1,143.4 383.4,144.4 383.7,145.4 383.9,146.4 384.1,147.4 384.3,148.4 384.3,149.4 384.3,150.4 384.0,151.4 383.7,152.4 383.3,153.4 383.0,154.4 382.5,155.4 382.0,156.4 381.5,157.4 381.1,158.4 380.7,159.4 380.4,160.4 380.1,161.4 379.6,162.4 379.1,163.4 378.6,164.4 378.1,165.4 377.6,166.4 377.1,167.4 376.4,168.4 375.7,169.4 374.8,170.4 374.0,171.4 373.3,172.4 372.6,173.4 372.1,174.4 371.5,175.4 370.9,176.4 370.3,177.4 369.6,178.4 368.9,179.4 368.2,180.4 367.6,181.4 366.9,182.4 366.2,183.4 365.6,184.4 365.0,185.4 364.4,186.4 363.9,187.4 363.4,188.4 362.9,189.4 362.4,190.4 361.9,191.4 361.3,192.4 360.8,193.4 360.2,194.4 359.7,195.4 359.1,196.4 358.5,197.4 357.9,198.4 357.3,199.4 356.6,200.4 355.8,201.4 355.1,202.4 354.4,203.4 353.7,204.4 352.9,205.4 352.1,206.4 351.2,207.4 350.3,208.4 349.4,209.4 348.5,210.4 347.6,211.4 346.5,212.4 345.4,213.4 344.2,214.4 343.0,215.4 341.8,216.4 340.6,217.4 339.4,218.4 338.4,219.4 337.7,220.4 337.0,221.4 336.3,222.4 335.9,223.4 335.7,224.4 335.8,225.4 336.0,226.4 336.3,227.4 336.7,228.4 337.3,229.4 338.0,230.4 338.5,231.4 339.0,232.4" fill="none" stroke="#ff0000" stroke-width="2" stroke-linejoin="round"/>
<line x1="353.50" y1="16.40" x2="353.50" y2="233.40" stroke="rgba(0,0,0,0.45)" stroke-width="3"/>
</g>
<rect x="244.40" y="16.40" width="164.10" height="217.00" fill="none" stroke="#000" stroke-width="0.9"/>
<path d="M262.53 233.40v4.0M308.12 233.40v4.0M353.70 233.40v4.0M399.28 233.40v4.0M244.40 233.40h-3.5M244.40 206.28h-3.5M244.40 179.15h-3.5M244.40 152.03h-3.5M244.40 124.90h-3.5M244.40 97.78h-3.5M244.40 70.65h-3.5M244.40 43.53h-3.5M244.40 16.40h-3.5" stroke="#000" stroke-width="0.9" fill="none"/>
<text x="262.73" y="247.8" text-anchor="middle" font-size="10.60">−10</text>
<text x="308.31" y="247.8" text-anchor="middle" font-size="10.60">−5</text>
<text x="354.30" y="247.8" text-anchor="middle" font-size="10.60">0</text>
<text x="399.88" y="247.8" text-anchor="middle" font-size="10.60">5</text>
<text x="326.05" y="9.6" text-anchor="middle" font-size="12.60" textLength="35.6" lengthAdjust="spacing">(b) LD</text>
<clipPath id="c2"><rect x="441.40" y="16.40" width="164.10" height="217.00"/></clipPath>
<g clip-path="url(#c2)">
<polygon points="447.5,13.4 448.5,14.4 449.6,15.4 450.6,16.4 451.6,17.4 452.7,18.4 453.7,19.4 454.7,20.4 455.7,21.4 456.7,22.4 457.7,23.4 458.7,24.4 459.8,25.4 460.8,26.4 461.8,27.4 462.8,28.4 463.8,29.4 464.8,30.4 465.8,31.4 466.7,32.4 467.7,33.4 468.7,34.4 469.7,35.4 470.7,36.4 471.6,37.4 472.6,38.4 473.6,39.4 474.6,40.4 475.5,41.4 476.5,42.4 477.5,43.4 478.4,44.4 479.4,45.4 480.3,46.4 481.2,47.4 482.1,48.4 483.1,49.4 484.0,50.4 484.9,51.4 485.8,52.4 486.8,53.4 487.7,54.4 488.6,55.4 489.5,56.4 490.4,57.4 491.3,58.4 492.2,59.4 493.1,60.4 493.9,61.4 494.8,62.4 495.7,63.4 496.5,64.4 497.4,65.4 498.3,66.4 499.2,67.4 500.0,68.4 500.9,69.4 501.8,70.4 502.6,71.4 503.4,72.4 504.2,73.4 505.0,74.4 505.9,75.4 506.7,76.4 507.5,77.4 508.3,78.4 509.1,79.4 509.9,80.4 510.7,81.4 511.5,82.4 512.3,83.4 513.1,84.4 513.8,85.4 514.6,86.4 515.3,87.4 516.0,88.4 516.8,89.4 517.5,90.4 518.2,91.4 519.0,92.4 519.7,93.4 520.5,94.4 521.2,95.4 521.9,96.4 522.7,97.4 523.4,98.4 524.0,99.4 524.7,100.4 525.3,101.4 526.0,102.4 526.7,103.4 527.3,104.4 528.0,105.4 528.7,106.4 529.3,107.4 530.0,108.4 530.6,109.4 531.3,110.4 531.9,111.4 532.5,112.4 533.1,113.4 533.6,114.4 534.2,115.4 534.8,116.4 535.4,117.4 535.9,118.4 536.5,119.4 537.1,120.4 537.6,121.4 538.2,122.4 538.8,123.4 539.4,124.4 539.9,125.4 540.5,126.4 541.0,127.4 541.6,128.4 542.2,129.4 542.7,130.4 543.3,131.4 543.9,132.4 544.4,133.4 545.0,134.4 545.5,135.4 546.1,136.4 546.7,137.4 547.3,138.4 547.9,139.4 548.5,140.4 549.2,141.4 549.8,142.4 550.5,143.4 551.1,144.4 551.5,145.4 551.6,146.4 551.6,147.4 551.6,148.4 551.7,149.4 551.7,150.4 551.8,151.4 551.8,152.4 551.8,153.4 551.8,154.4 551.8,155.4 551.8,156.4 551.8,157.4 551.8,158.4 551.8,159.4 551.8,160.4 551.8,161.4 551.8,162.4 551.8,163.4 551.8,164.4 551.8,165.4 551.7,166.4 551.6,167.4 551.6,168.4 551.5,169.4 551.4,170.4 551.3,171.4 550.9,172.4 550.2,173.4 549.4,174.4 548.6,175.4 547.8,176.4 547.1,177.4 546.3,178.4 545.4,179.4 544.4,180.4 543.4,181.4 542.5,182.4 541.5,183.4 540.5,184.4 539.6,185.4 538.8,186.4 538.0,187.4 537.2,188.4 536.4,189.4 535.7,190.4 534.9,191.4 534.3,192.4 534.0,193.4 533.7,194.4 533.4,195.4 533.1,196.4 532.8,197.4 532.5,198.4 532.2,199.4 531.8,200.4 531.4,201.4 531.1,202.4 530.7,203.4 530.4,204.4 530.0,205.4 529.4,206.4 528.7,207.4 527.8,208.4 527.0,209.4 526.2,210.4 525.4,211.4 524.8,212.4 524.6,213.4 524.4,214.4 524.1,215.4 523.9,216.4 523.7,217.4 523.4,218.4 523.2,219.4 523.1,220.4 522.9,221.4 522.7,222.4 522.5,223.4 522.0,224.4 521.1,225.4 520.1,226.4 519.1,227.4 519.1,228.4 521.0,229.4 523.2,230.4 524.9,231.4 526.1,232.4 545.6,232.4 545.7,231.4 545.9,230.4 546.1,229.4 546.4,228.4 547.5,227.4 548.8,226.4 550.2,225.4 551.5,224.4 552.3,223.4 552.8,222.4 553.3,221.4 553.8,220.4 554.3,219.4 554.8,218.4 555.4,217.4 556.0,216.4 556.6,215.4 557.1,214.4 557.7,213.4 558.3,212.4 558.8,211.4 559.3,210.4 559.8,209.4 560.3,208.4 560.8,207.4 561.3,206.4 562.0,205.4 562.9,204.4 563.7,203.4 564.6,202.4 565.4,201.4 566.3,200.4 567.1,199.4 567.8,198.4 568.3,197.4 568.8,196.4 569.3,195.4 569.8,194.4 570.3,193.4 570.8,192.4 571.0,191.4 571.1,190.4 571.2,189.4 571.3,188.4 571.3,187.4 571.4,186.4 571.5,185.4 571.7,184.4 572.1,183.4 572.4,182.4 572.8,181.4 573.1,180.4 573.4,179.4 573.7,178.4 573.8,177.4 574.0,176.4 574.1,175.4 574.3,174.4 574.4,173.4 574.5,172.4 574.7,171.4 574.9,170.4 575.2,169.4 575.4,168.4 575.6,167.4 575.8,166.4 576.0,165.4 576.1,164.4 576.0,163.4 576.0,162.4 576.0,161.4 575.9,160.4 575.9,159.4 575.8,158.4 575.8,157.4 575.8,156.4 575.7,155.4 575.7,154.4 575.7,153.4 575.6,152.4 575.5,151.4 575.3,150.4 575.0,149.4 574.8,148.4 574.6,147.4 574.4,146.4 574.2,145.4 574.0,144.4 573.8,143.4 573.5,142.4 573.3,141.4 573.1,140.4 572.9,139.4 572.7,138.4 572.3,137.4 571.8,136.4 571.4,135.4 570.9,134.4 570.4,133.4 570.0,132.4 569.5,131.4 569.0,130.4 568.6,129.4 568.1,128.4 567.6,127.4 567.2,126.4 566.7,125.4 566.1,124.4 565.5,123.4 564.8,122.4 564.2,121.4 563.5,120.4 562.9,119.4 562.3,118.4 561.6,117.4 561.0,116.4 560.3,115.4 559.7,114.4 559.0,113.4 558.4,112.4 557.8,111.4 557.1,110.4 556.4,109.4 555.6,108.4 554.9,107.4 554.2,106.4 553.5,105.4 552.8,104.4 552.1,103.4 551.3,102.4 550.6,101.4 549.9,100.4 549.2,99.4 548.5,98.4 547.7,97.4 547.0,96.4 546.2,95.4 545.4,94.4 544.7,93.4 543.9,92.4 543.1,91.4 542.3,90.4 541.6,89.4 540.8,88.4 540.0,87.4 539.3,86.4 538.5,85.4 537.7,84.4 536.9,83.4 536.1,82.4 535.3,81.4 534.4,80.4 533.6,79.4 532.8,78.4 532.0,77.4 531.1,76.4 530.3,75.4 529.5,74.4 528.7,73.4 527.9,72.4 527.0,71.4 526.2,70.4 525.3,69.4 524.5,68.4 523.6,67.4 522.8,66.4 521.9,65.4 521.0,64.4 520.2,63.4 519.3,62.4 518.5,61.4 517.6,60.4 516.8,59.4 515.9,58.4 515.0,57.4 514.2,56.4 513.3,55.4 512.4,54.4 511.5,53.4 510.6,52.4 509.7,51.4 508.8,50.4 507.9,49.4 507.0,48.4 506.1,47.4 505.2,46.4 504.3,45.4 503.4,44.4 502.5,43.4 501.6,42.4 500.7,41.4 499.8,40.4 498.9,39.4 498.0,38.4 497.0,37.4 496.1,36.4 495.2,35.4 494.3,34.4 493.4,33.4 492.5,32.4 491.6,31.4 490.7,30.4 489.7,29.4 488.8,28.4 487.9,27.4 487.0,26.4 486.1,25.4 485.1,24.4 484.2,23.4 483.3,22.4 482.4,21.4 481.5,20.4 480.5,19.4 479.6,18.4 478.6,17.4 477.7,16.4 476.8,15.4 475.8,14.4 474.9,13.4" fill="rgba(0,0,255,0.3)" stroke="rgba(0,0,255,0.3)" stroke-width="1" stroke-linejoin="round"/>
<polygon points="450.3,13.4 451.4,14.4 452.4,15.4 453.5,16.4 454.6,17.4 455.6,18.4 456.7,19.4 457.7,20.4 458.7,21.4 459.7,22.4 460.7,23.4 461.7,24.4 462.7,25.4 463.7,26.4 464.7,27.4 465.7,28.4 466.7,29.4 467.7,30.4 468.6,31.4 469.6,32.4 470.6,33.4 471.5,34.4 472.5,35.4 473.5,36.4 474.4,37.4 475.4,38.4 476.4,39.4 477.3,40.4 478.3,41.4 479.2,42.4 480.2,43.4 481.1,44.4 482.0,45.4 482.9,46.4 483.8,47.4 484.7,48.4 485.6,49.4 486.5,50.4 487.4,51.4 488.3,52.4 489.2,53.4 490.2,54.4 491.1,55.4 492.0,56.4 492.8,57.4 493.7,58.4 494.5,59.4 495.4,60.4 496.2,61.4 497.1,62.4 497.9,63.4 498.8,64.4 499.6,65.4 500.5,66.4 501.3,67.4 502.2,68.4 503.0,69.4 503.9,70.4 504.7,71.4 505.5,72.4 506.3,73.4 507.1,74.4 507.9,75.4 508.6,76.4 509.4,77.4 510.2,78.4 511.0,79.4 511.8,80.4 512.6,81.4 513.3,82.4 514.1,83.4 514.9,84.4 515.6,85.4 516.3,86.4 517.0,87.4 517.7,88.4 518.5,89.4 519.2,90.4 519.9,91.4 520.6,92.4 521.3,93.4 522.0,94.4 522.7,95.4 523.5,96.4 524.2,97.4 524.9,98.4 525.5,99.4 526.1,100.4 526.8,101.4 527.4,102.4 528.0,103.4 528.7,104.4 529.3,105.4 530.0,106.4 530.6,107.4 531.2,108.4 531.9,109.4 532.5,110.4 533.1,111.4 533.7,112.4 534.3,113.4 534.8,114.4 535.4,115.4 535.9,116.4 536.5,117.4 537.1,118.4 537.6,119.4 538.2,120.4 538.8,121.4 539.3,122.4 539.9,123.4 540.5,124.4 540.9,125.4 541.2,126.4 541.6,127.4 541.9,128.4 542.2,129.4 542.5,130.4 542.8,131.4 543.1,132.4 543.4,133.4 543.8,134.4 544.1,135.4 544.4,136.4 544.7,137.4 544.9,138.4 545.0,139.4 545.1,140.4 545.1,141.4 545.2,142.4 545.3,143.4 545.4,144.4 545.4,145.4 545.3,146.4 545.2,147.4 545.2,148.4 545.1,149.4 545.0,150.4 544.9,151.4 544.8,152.4 544.6,153.4 544.4,154.4 544.2,155.4 544.1,156.4 543.9,157.4 543.7,158.4 543.5,159.4 543.3,160.4 543.1,161.4 542.9,162.4 542.7,163.4 542.5,164.4 542.3,165.4 542.0,166.4 541.7,167.4 541.4,168.4 541.1,169.4 540.9,170.4 540.6,171.4 540.4,172.4 540.4,173.4 540.4,174.4 540.4,175.4 540.4,176.4 540.4,177.4 540.4,178.4 540.4,179.4 540.5,180.4 540.6,181.4 540.6,182.4 540.7,183.4 540.8,184.4 540.7,185.4 540.6,186.4 540.5,187.4 540.3,188.4 540.2,189.4 540.0,190.4 539.9,191.4 539.8,192.4 539.8,193.4 539.8,194.4 539.8,195.4 539.8,196.4 539.8,197.4 539.8,198.4 539.4,199.4 538.6,200.4 537.7,201.4 536.9,202.4 536.0,203.4 535.2,204.4 534.3,205.4 533.5,206.4 532.9,207.4 532.2,208.4 531.5,209.4 530.9,210.4 530.2,211.4 529.6,212.4 529.1,213.4 528.6,214.4 528.1,215.4 527.6,216.4 527.1,217.4 526.6,218.4 526.2,219.4 526.0,220.4 525.8,221.4 525.6,222.4 525.4,223.4 525.4,224.4 525.6,225.4 525.7,226.4 525.9,227.4 526.2,228.4 526.5,229.4 526.9,230.4 527.3,231.4 527.6,232.4 547.0,232.4 546.9,231.4 546.9,230.4 547.4,229.4 548.0,228.4 549.0,227.4 550.2,226.4 551.4,225.4 552.5,224.4 553.5,223.4 554.3,222.4 555.1,221.4 555.9,220.4 556.7,219.4 557.4,218.4 558.1,217.4 558.9,216.4 559.6,215.4 560.3,214.4 561.0,213.4 561.7,212.4 562.1,211.4 562.4,210.4 562.7,209.4 562.9,208.4 563.1,207.4 563.4,206.4 563.5,205.4 563.5,204.4 563.5,203.4 563.5,202.4 563.5,201.4 563.5,200.4 563.5,199.4 563.7,198.4 564.0,197.4 564.2,196.4 564.5,195.4 564.8,194.4 565.1,193.4 565.4,192.4 565.6,191.4 565.8,190.4 565.9,189.4 566.1,188.4 566.2,187.4 566.4,186.4 566.6,185.4 567.1,184.4 567.9,183.4 568.8,182.4 569.6,181.4 570.4,180.4 571.3,179.4 572.2,178.4 573.3,177.4 574.3,176.4 575.4,175.4 576.5,174.4 577.5,173.4 578.6,172.4 579.4,171.4 580.1,170.4 580.9,169.4 581.6,168.4 582.3,167.4 583.0,166.4 583.7,165.4 584.1,164.4 584.2,163.4 584.3,162.4 584.4,161.4 584.5,160.4 584.6,159.4 584.8,158.4 584.9,157.4 585.0,156.4 585.1,155.4 585.2,154.4 585.3,153.4 585.5,152.4 585.6,151.4 585.8,150.4 586.1,149.4 586.3,148.4 586.5,147.4 586.7,146.4 586.9,145.4 587.0,144.4 587.1,143.4 587.2,142.4 587.3,141.4 587.3,140.4 587.4,139.4 587.4,138.4 587.3,137.4 587.0,136.4 586.7,135.4 586.4,134.4 586.1,133.4 585.8,132.4 585.5,131.4 585.2,130.4 584.9,129.4 584.5,128.4 584.2,127.4 583.9,126.4 583.6,125.4 583.1,124.4 582.6,123.4 582.0,122.4 581.4,121.4 580.8,120.4 580.2,119.4 579.6,118.4 579.0,117.4 578.4,116.4 577.8,115.4 577.2,114.4 576.6,113.4 576.0,112.4 575.4,111.4 574.8,110.4 574.1,109.4 573.4,108.4 572.8,107.4 572.1,106.4 571.4,105.4 570.7,104.4 570.1,103.4 569.4,102.4 568.7,101.4 568.0,100.4 567.3,99.4 566.7,98.4 566.0,97.4 565.2,96.4 564.5,95.4 563.8,94.4 563.0,93.4 562.3,92.4 561.5,91.4 560.8,90.4 560.1,89.4 559.3,88.4 558.6,87.4 557.9,86.4 557.1,85.4 556.4,84.4 555.6,83.4 554.8,82.4 554.0,81.4 553.2,80.4 552.5,79.4 551.7,78.4 550.9,77.4 550.1,76.4 549.3,75.4 548.5,74.4 547.7,73.4 546.9,72.4 546.1,71.4 545.3,70.4 544.5,69.4 543.6,68.4 542.8,67.4 541.9,66.4 541.1,65.4 540.2,64.4 539.4,63.4 538.6,62.4 537.7,61.4 536.9,60.4 536.0,59.4 535.2,58.4 534.3,57.4 533.5,56.4 532.6,55.4 531.7,54.4 530.9,53.4 530.0,52.4 529.1,51.4 528.2,50.4 527.4,49.4 526.5,48.4 525.6,47.4 524.7,46.4 523.9,45.4 523.0,44.4 522.1,43.4 521.2,42.4 520.3,41.4 519.4,40.4 518.5,39.4 517.6,38.4 516.6,37.4 515.7,36.4 514.8,35.4 513.9,34.4 513.0,33.4 512.1,32.4 511.2,31.4 510.3,30.4 509.3,29.4 508.4,28.4 507.5,27.4 506.6,26.4 505.6,25.4 504.7,24.4 503.8,23.4 502.8,22.4 501.9,21.4 501.0,20.4 500.0,19.4 499.1,18.4 498.1,17.4 497.2,16.4 496.3,15.4 495.3,14.4 494.4,13.4" fill="rgba(255,0,0,0.3)" stroke="rgba(255,0,0,0.3)" stroke-width="1" stroke-linejoin="round"/>
<path d="M459.5 16.4V233.4M505.5 16.4V233.4M550.5 16.4V233.4M596.5 16.4V233.4M441.4 206.5H605.5M441.4 179.5H605.5M441.4 152.5H605.5M441.4 124.5H605.5M441.4 97.5H605.5M441.4 70.5H605.5M441.4 43.5H605.5" stroke="#b0b0b0" stroke-width="0.8" stroke-dasharray="0.8,1.32" fill="none"/>
<polyline points="460.4,13.4 461.3,14.4 462.3,15.4 463.2,16.4 464.1,17.4 465.1,18.4 466.0,19.4 467.0,20.4 467.9,21.4 468.8,22.4 469.8,23.4 470.7,24.4 471.6,25.4 472.6,26.4 473.5,27.4 474.4,28.4 475.3,29.4 476.3,30.4 477.2,31.4 478.1,32.4 479.0,33.4 479.9,34.4 480.8,35.4 481.7,36.4 482.6,37.4 483.6,38.4 484.5,39.4 485.4,40.4 486.3,41.4 487.2,42.4 488.1,43.4 489.0,44.4 489.9,45.4 490.8,46.4 491.6,47.4 492.5,48.4 493.4,49.4 494.3,50.4 495.2,51.4 496.0,52.4 496.9,53.4 497.8,54.4 498.7,55.4 499.6,56.4 500.4,57.4 501.3,58.4 502.2,59.4 503.0,60.4 503.9,61.4 504.7,62.4 505.6,63.4 506.4,64.4 507.3,65.4 508.2,66.4 509.0,67.4 509.9,68.4 510.7,69.4 511.6,70.4 512.4,71.4 513.2,72.4 514.1,73.4 514.9,74.4 515.7,75.4 516.5,76.4 517.3,77.4 518.1,78.4 518.9,79.4 519.8,80.4 520.6,81.4 521.4,82.4 522.2,83.4 523.0,84.4 523.8,85.4 524.6,86.4 525.3,87.4 526.1,88.4 526.9,89.4 527.7,90.4 528.5,91.4 529.2,92.4 530.0,93.4 530.8,94.4 531.6,95.4 532.3,96.4 533.1,97.4 533.9,98.4 534.6,99.4 535.3,100.4 536.1,101.4 536.8,102.4 537.5,103.4 538.3,104.4 539.0,105.4 539.7,106.4 540.5,107.4 541.2,108.4 541.9,109.4 542.6,110.4 543.3,111.4 544.0,112.4 544.7,113.4 545.4,114.4 546.1,115.4 546.8,116.4 547.5,117.4 548.2,118.4 548.9,119.4 549.5,120.4 550.2,121.4 550.9,122.4 551.6,123.4 552.2,124.4 552.8,125.4 553.4,126.4 553.9,127.4 554.4,128.4 554.9,129.4 555.4,130.4 555.9,131.4 556.5,132.4 557.0,133.4 557.5,134.4 558.0,135.4 558.5,136.4 559.0,137.4 559.5,138.4 559.9,139.4 560.4,140.4 560.8,141.4 561.3,142.4 561.7,143.4 562.0,144.4 562.3,145.4 562.5,146.4 562.6,147.4 562.7,148.4 562.7,149.4 562.8,150.4 562.8,151.4 562.8,152.4 562.8,153.4 562.7,154.4 562.6,155.4 562.6,156.4 562.5,157.4 562.4,158.4 562.3,159.4 562.3,160.4 562.2,161.4 562.1,162.4 562.0,163.4 561.9,164.4 561.7,165.4 561.6,166.4 561.4,167.4 561.2,168.4 561.0,169.4 560.8,170.4 560.5,171.4 560.2,172.4 559.9,173.4 559.6,174.4 559.2,175.4 558.8,176.4 558.5,177.4 558.0,178.4 557.6,179.4 557.1,180.4 556.6,181.4 556.1,182.4 555.6,183.4 555.1,184.4 554.6,185.4 554.1,186.4 553.7,187.4 553.2,188.4 552.8,189.4 552.4,190.4 552.0,191.4 551.5,192.4 551.1,193.4 550.7,194.4 550.2,195.4 549.8,196.4 549.3,197.4 548.8,198.4 548.3,199.4 547.7,200.4 547.1,201.4 546.5,202.4 545.9,203.4 545.2,204.4 544.6,205.4 544.0,206.4 543.4,207.4 542.8,208.4 542.2,209.4 541.6,210.4 541.1,211.4 540.5,212.4 539.9,213.4 539.3,214.4 538.8,215.4 538.2,216.4 537.6,217.4 537.0,218.4 536.2,219.4 535.3,220.4 534.3,221.4 533.2,222.4 532.2,223.4 531.2,224.4 530.2,225.4 529.2,226.4 528.3,227.4 527.8,228.4 527.8,229.4 528.1,230.4 528.5,231.4 528.8,232.4" fill="none" stroke="#0000ff" stroke-width="2" stroke-linejoin="round"/>
<polyline points="471.2,13.4 472.0,14.4 472.8,15.4 473.5,16.4 474.3,17.4 475.1,18.4 475.8,19.4 476.6,20.4 477.4,21.4 478.2,22.4 479.0,23.4 479.7,24.4 480.5,25.4 481.3,26.4 482.1,27.4 482.9,28.4 483.7,29.4 484.5,30.4 485.3,31.4 486.1,32.4 486.9,33.4 487.7,34.4 488.5,35.4 489.4,36.4 490.2,37.4 491.0,38.4 491.8,39.4 492.7,40.4 493.5,41.4 494.3,42.4 495.1,43.4 495.9,44.4 496.8,45.4 497.6,46.4 498.4,47.4 499.3,48.4 500.1,49.4 500.9,50.4 501.8,51.4 502.6,52.4 503.4,53.4 504.2,54.4 505.1,55.4 505.9,56.4 506.7,57.4 507.5,58.4 508.4,59.4 509.2,60.4 510.0,61.4 510.8,62.4 511.7,63.4 512.5,64.4 513.3,65.4 514.1,66.4 514.9,67.4 515.8,68.4 516.6,69.4 517.4,70.4 518.2,71.4 519.0,72.4 519.8,73.4 520.6,74.4 521.4,75.4 522.2,76.4 523.0,77.4 523.8,78.4 524.6,79.4 525.3,80.4 526.1,81.4 526.9,82.4 527.7,83.4 528.5,84.4 529.2,85.4 530.0,86.4 530.7,87.4 531.4,88.4 532.2,89.4 532.9,90.4 533.6,91.4 534.4,92.4 535.1,93.4 535.8,94.4 536.6,95.4 537.3,96.4 538.0,97.4 538.7,98.4 539.4,99.4 540.1,100.4 540.8,101.4 541.4,102.4 542.1,103.4 542.8,104.4 543.5,105.4 544.1,106.4 544.8,107.4 545.5,108.4 546.1,109.4 546.7,110.4 547.4,111.4 548.0,112.4 548.5,113.4 549.1,114.4 549.7,115.4 550.2,116.4 550.8,117.4 551.4,118.4 551.9,119.4 552.5,120.4 553.1,121.4 553.6,122.4 554.2,123.4 554.7,124.4 555.2,125.4 555.7,126.4 556.1,127.4 556.6,128.4 557.0,129.4 557.4,130.4 557.9,131.4 558.3,132.4 558.7,133.4 559.1,134.4 559.6,135.4 560.0,136.4 560.4,137.4 560.8,138.4 561.1,139.4 561.4,140.4 561.8,141.4 562.1,142.4 562.3,143.4 562.6,144.4 562.8,145.4 563.0,146.4 563.2,147.4 563.3,148.4 563.4,149.4 563.5,150.4 563.5,151.4 563.6,152.4 563.5,153.4 563.5,154.4 563.4,155.4 563.4,156.4 563.3,157.4 563.2,158.4 563.1,159.4 563.1,160.4 563.0,161.4 562.9,162.4 562.8,163.4 562.6,164.4 562.5,165.4 562.2,166.4 562.0,167.4 561.7,168.4 561.4,169.4 561.2,170.4 560.9,171.4 560.6,172.4 560.3,173.4 560.0,174.4 559.7,175.4 559.4,176.4 559.1,177.4 558.8,178.4 558.5,179.4 558.1,180.4 557.7,181.4 557.3,182.4 556.9,183.4 556.5,184.4 556.2,185.4 555.8,186.4 555.5,187.4 555.2,188.4 554.9,189.4 554.7,190.4 554.4,191.4 554.1,192.4 553.9,193.4 553.7,194.4 553.4,195.4 553.2,196.4 552.9,197.4 552.6,198.4 552.2,199.4 551.8,200.4 551.4,201.4 550.9,202.4 550.4,203.4 549.9,204.4 549.4,205.4 548.8,206.4 548.3,207.4 547.7,208.4 547.1,209.4 546.5,210.4 545.9,211.4 545.3,212.4 544.7,213.4 544.1,214.4 543.4,215.4 542.8,216.4 542.1,217.4 541.4,218.4 540.7,219.4 539.8,220.4 538.9,221.4 538.0,222.4 537.2,223.4 536.6,224.4 536.3,225.4 536.2,226.4 536.1,227.4 536.3,228.4 536.6,229.4 537.1,230.4 537.7,231.4 538.2,232.4" fill="none" stroke="#ff0000" stroke-width="2" stroke-linejoin="round"/>
<line x1="550.50" y1="16.40" x2="550.50" y2="233.40" stroke="rgba(0,0,0,0.45)" stroke-width="3"/>
</g>
<rect x="441.40" y="16.40" width="164.10" height="217.00" fill="none" stroke="#000" stroke-width="0.9"/>
<path d="M459.53 233.40v4.0M505.11 233.40v4.0M550.70 233.40v4.0M596.28 233.40v4.0M441.40 233.40h-3.5M441.40 206.28h-3.5M441.40 179.15h-3.5M441.40 152.03h-3.5M441.40 124.90h-3.5M441.40 97.78h-3.5M441.40 70.65h-3.5M441.40 43.53h-3.5M441.40 16.40h-3.5" stroke="#000" stroke-width="0.9" fill="none"/>
<text x="459.73" y="247.8" text-anchor="middle" font-size="10.60">−10</text>
<text x="505.31" y="247.8" text-anchor="middle" font-size="10.60">−5</text>
<text x="551.30" y="247.8" text-anchor="middle" font-size="10.60">0</text>
<text x="596.88" y="247.8" text-anchor="middle" font-size="10.60">5</text>
<text x="523.05" y="9.6" text-anchor="middle" font-size="12.60" textLength="41.0" lengthAdjust="spacing">(c) ALL</text>
<text x="326.45" y="262.2" text-anchor="middle" font-size="10.60" textLength="82.5" lengthAdjust="spacingAndGlyphs">Temperature [°C]</text>
<text transform="translate(9.6,125.6) rotate(-90)" x="0" y="0" text-anchor="middle" font-size="10.60">Height [m]</text>
</svg></body></html>
